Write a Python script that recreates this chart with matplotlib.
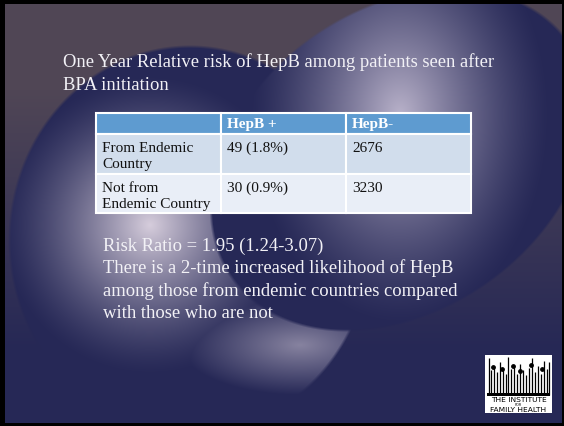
import numpy as np
import matplotlib
matplotlib.use("Agg")
import matplotlib.pyplot as plt
from matplotlib.patches import Rectangle

# Slide text
title_lines = ["One Year Relative risk of HepB among patients seen after",
               "BPA initiation"]
col_headers = ["", "HepB +", "HepB-"]
row_labels = [["From Endemic", "Country"], ["Not from", "Endemic Country"]]
cell_values = [["49 (1.8%)", "2676"], ["30 (0.9%)", "3230"]]
result_lines = ["Risk Ratio = 1.95 (1.24-3.07)",
                "There is a 2-time increased likelihood of HepB",
                "among those from endemic countries compared",
                "with those who are not"]
logo_lines = ["THE INSTITUTE", "FOR", "FAMILY HEALTH"]

# Logo bars (x, top) for the little skyline figure
logo_bar_x = [489, 491, 494, 497, 500, 503, 506, 508, 511, 514, 517, 520,
              523, 526, 529, 532, 535, 538, 541, 544, 547, 549]
logo_bar_top = [358, 370, 368, 372, 362, 370, 374, 357, 369, 366, 374, 364,
                370, 375, 368, 358, 372, 366, 374, 361, 369, 362]
logo_head_x = [493, 502, 513, 520, 531, 542]
logo_head_y = [367, 369, 366, 371, 365, 369]

W, H = 564, 426

# ---- background: mauve slide with two navy glowing blobs ----
yy, xx = np.mgrid[0:H, 0:W] + 0.5
mauve = np.array([80, 70, 85]) / 255
navy = np.array([38, 40, 86]) / 255

t = np.clip((yy - 90) / 260, 0, 1)[..., None]
img = mauve * (1 - t) + navy * t


def ell(cx, cy, rx, ry, ang=0):
    a = np.deg2rad(ang)
    dx, dy = xx - cx, yy - cy
    u = dx * np.cos(a) - dy * np.sin(a)
    v = dx * np.sin(a) + dy * np.cos(a)
    return np.sqrt((u / rx) ** 2 + (v / ry) ** 2)


def glow(g, power):
    return np.clip(1 - g, 0, 1) ** power


def blob(img, r, f, peak):
    col = navy + (np.array(peak) / 255 - navy) * f[..., None]
    a = np.clip((1 - r) * 60, 0, 1)[..., None]
    return img * (1 - a) + col * a


# left blob: glow under the table plus a softer band lower right
f_left = np.maximum(glow(ell(150, 225, 150, 150), 1.35),
                    0.55 * glow(ell(300, 345, 120, 50), 1.0))
img = blob(img, ell(190, 240, 182, 195), f_left, (214, 205, 220))

# right blob (tilted ellipse)
f_right = glow(ell(400, 115, 150, 210), 1.3)
img = blob(img, ell(400, 160, 207, 152, 35), f_right, (185, 178, 202))

# black frame
img[:4, :] = 0
img[-3:, :] = 0
img[:, :5] = 0
img[:, -2:] = 0

fig = plt.figure(figsize=(W / 100, H / 100), dpi=100)
ax = fig.add_axes([0, 0, 1, 1])
ax.imshow(img, extent=(0, W, H, 0), interpolation="none", zorder=0)
ax.set_xlim(0, W)
ax.set_ylim(H, 0)
ax.axis("off")

serif = "Liberation Serif"
white = "#f2f1f6"

# title
for i, line in enumerate(title_lines):
    ax.text(63, 67 + i * 23, line, family=serif, fontsize=13.4, color=white,
            va="baseline", ha="left")

# ---- table ----
col_x = [96, 221, 346, 471]
row_y = [113, 134, 174, 213]
fills = ["#5e9bd0", "#d1ddec", "#e9eef7"]
for r in range(3):
    for c in range(3):
        ax.add_patch(Rectangle((col_x[c], row_y[r]), col_x[c + 1] - col_x[c],
                               row_y[r + 1] - row_y[r], facecolor=fills[r],
                               edgecolor="white", lw=1.5, zorder=2))

for c, txt in enumerate(col_headers):
    ax.text(col_x[c] + 6, 128, txt, family=serif, fontsize=11, weight="bold",
            color="white", va="baseline", zorder=3)

for r in range(2):
    base = row_y[r + 1] + 18
    for k, part in enumerate(row_labels[r]):
        ax.text(col_x[0] + 6, base + k * 16, part, family=serif, fontsize=11,
                color="#111111", va="baseline", zorder=3)
    for c in range(2):
        ax.text(col_x[c + 1] + 6, base, cell_values[r][c], family=serif,
                fontsize=11, color="#111111", va="baseline", zorder=3)

# result text
for i, line in enumerate(result_lines):
    ax.text(103, 251 + i * 22.4, line, family=serif, fontsize=13.4,
            color=white, va="baseline", ha="left")

# ---- logo ----
ax.add_patch(Rectangle((485, 355), 67, 58, facecolor="white", edgecolor="none",
                       zorder=2))
ax.vlines(logo_bar_x, logo_bar_top, 395, color="black", lw=0.9, zorder=3)
ax.add_patch(Rectangle((487, 393), 63, 3, facecolor="black", zorder=3))
ax.scatter(logo_head_x, logo_head_y, s=6, color="black", zorder=4)
ax.text(518.5, 400, logo_lines[0], family="DejaVu Sans", fontsize=5.4,
        ha="center", va="center", zorder=4)
ax.text(518.5, 405, logo_lines[1], family="DejaVu Sans", fontsize=2.5,
        ha="center", va="center", zorder=4)
ax.text(518.5, 410, logo_lines[2], family="DejaVu Sans", fontsize=5.4,
        ha="center", va="center", zorder=4)

fig.savefig("out.png", dpi=100)
